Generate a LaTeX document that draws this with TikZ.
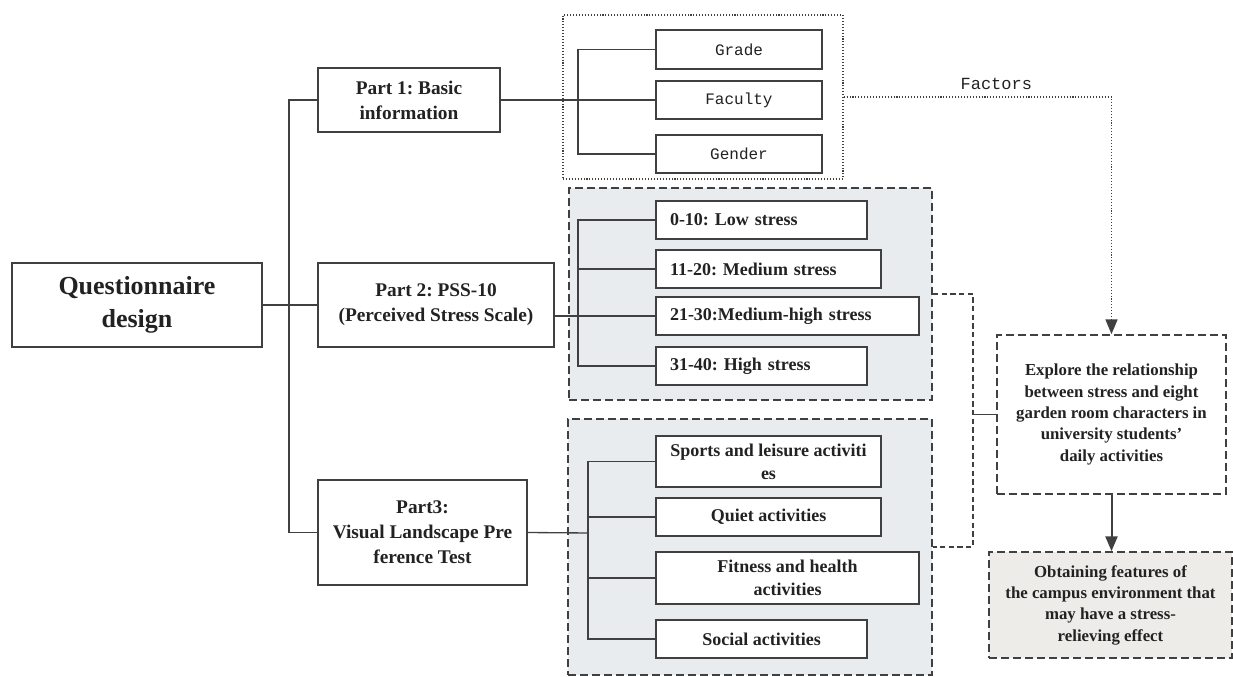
\documentclass[tikz,border=0pt]{standalone}
\usepackage{fontspec}
\setmainfont{Liberation Serif}
\setmonofont{Liberation Mono}
\usepackage{tikz}
\usetikzlibrary{arrows.meta, positioning, calc}
\usepackage{xcolor}
\definecolor{linegray}{RGB}{64,64,64}
\definecolor{textgray}{RGB}{34,34,34}
\definecolor{panelgray}{RGB}{233,236,239}
\definecolor{warmgray}{RGB}{237,236,232}
\newlength{\pxl}
\setlength{\pxl}{0.75pt}
\frenchspacing

\begin{document}
\begin{tikzpicture}[>={Triangle[length=11pt,width=9pt]}, x=0.75pt, y=-0.75pt,
    box/.style={rectangle, draw=linegray, line width=1.2pt, fill=white, text=textgray, align=center, inner sep=0pt},
    partbox/.style={box, font=\bfseries\fontsize{14.5}{18.75}\selectfont},
    itembox/.style={box, font=\bfseries\fontsize{13.5}{17.25}\selectfont},
    stressbox/.style={itembox, align=left, inner xsep=14\pxl},
    monobox/.style={box, font=\ttfamily\fontsize{12}{14}\selectfont},
    panel/.style={rectangle, draw=linegray, line width=1.3pt, dash pattern=on 6pt off 3pt, fill=panelgray, inner sep=0pt},
    goalbox/.style={rectangle, draw=linegray, line width=1.3pt, dash pattern=on 6pt off 3pt, text=textgray, align=center, inner sep=0pt, font=\bfseries\fontsize{12.6}{16}\selectfont},
    link/.style={draw=linegray, line width=1pt},
    dotline/.style={dash pattern=on 0.8pt off 1.4pt}]
        \useasboundingbox (0,0) rectangle (1233,677);
        \node (grpA) [rectangle, draw=linegray, line width=1pt, dotline, minimum width=280\pxl, minimum height=164\pxl] at (703,97) {};
        \node (grpB) [panel, minimum width=363\pxl, minimum height=212\pxl] at (750.5,294) {};
        \node (grpC) [panel, minimum width=364\pxl, minimum height=256\pxl] at (750,547) {};

        \node (qd) [box, font=\bfseries\fontsize{19.5}{24.5}\selectfont, minimum width=250\pxl, minimum height=84\pxl] at (137,305) {Questionnaire\\design};
        \node (p1) [partbox, minimum width=182\pxl, minimum height=64\pxl] at (409,100) {Part 1: Basic\\information};
        \node (p2) [partbox, minimum width=236\pxl, minimum height=84\pxl] at (436,305) {Part 2: PSS-10\\(Perceived Stress Scale)};
        \node (p3) [partbox, minimum width=209\pxl, minimum height=105\pxl] at (422.5,532.5) {Part3:\\Visual Landscape Pre\\ference Test};

        \node (grade) [monobox, minimum width=166\pxl, minimum height=39\pxl] at (739,49.5) {Grade};
        \node (faculty) [monobox, minimum width=166\pxl, minimum height=38\pxl] at (739,100) {Faculty};
        \node (gender) [monobox, minimum width=166\pxl, minimum height=38\pxl] at (739,154) {Gender};

        \node (low) [stressbox, text width=183\pxl, minimum height=38\pxl] at (761.5,220) {0-10: Low stress};
        \node (medium) [stressbox, text width=197\pxl, minimum height=38\pxl] at (768.5,269) {11-20: Medium stress};
        \node (medhigh) [stressbox, text width=235\pxl, minimum height=38\pxl] at (787.5,316) {21-30:Medium-high stress};
        \node (high) [stressbox, text width=183\pxl, minimum height=38\pxl] at (761.5,366) {31-40: High stress};

        \node (sports) [itembox, minimum width=225\pxl, minimum height=51\pxl] at (768.5,461.5) {Sports and leisure activiti\\es};
        \node (quiet) [itembox, minimum width=225\pxl, minimum height=38\pxl] at (768.5,517) {Quiet activities};
        \node (fitness) [itembox, minimum width=263\pxl, minimum height=52\pxl] at (787.5,578) {Fitness and health\\activities};
        \node (social) [itembox, minimum width=211\pxl, minimum height=38\pxl] at (761.5,639) {Social activities};

        \node (explore) [goalbox, fill=white, minimum width=229\pxl, minimum height=159\pxl] at (1111.5,414.5) {Explore the relationship\\between stress and eight\\garden room characters in\\university students'\\daily activities};
        \node (obtain) [goalbox, fill=warmgray, minimum width=243\pxl, minimum height=106\pxl] at (1110.5,605) {Obtaining features of\\the campus environment that\\may have a stress-\\relieving effect};

        \coordinate (tk) at (289,305);
        \coordinate (brA) at (578,100);
        \coordinate (brB) at (578,290);
        \coordinate (brC) at (588,533);
        \coordinate (jn) at (973,414.5);

        \draw [link] (qd.east) -- (p2.west);
        \draw [link] (p1.west) -- (p1.west -| tk) -- (p3.west -| tk) -- (p3.west);
        \draw [link] (p1.east) -- (faculty.west);
        \draw [link] (grade.west) -| (brA) |- (gender.west);
        \draw [link] (p2.east |- medhigh.west) -- (medhigh.west);
        \draw [link] (low.west) -| (brB) |- (high.west);
        \draw [link] (medium.west) -- (medium.west -| brB);
        \draw [link] (p3.east) -- (brC);
        \draw [link] (sports.west) -| (brC) |- (social.west);
        \draw [link] (quiet.west) -- (quiet.west -| brC);
        \draw [link] (fitness.west) -- (fitness.west -| brC);
        \draw [link, dotline, ->] (grpA.east) -| node [pos=0.285, above, yshift=2pt, font=\ttfamily\fontsize{12.75}{15}\selectfont, text=textgray] (factors) {Factors} (explore.north);
        \draw [link, line width=0.9pt, dash pattern=on 4pt off 2.5pt] (grpB.east) -| (jn) |- (grpC.east);
        \draw [link] (jn) -- (explore.west);
        \draw [link, line width=1.5pt, ->] (explore.south) -- (explore.south |- obtain.north);
    \end{tikzpicture}
\end{document}
